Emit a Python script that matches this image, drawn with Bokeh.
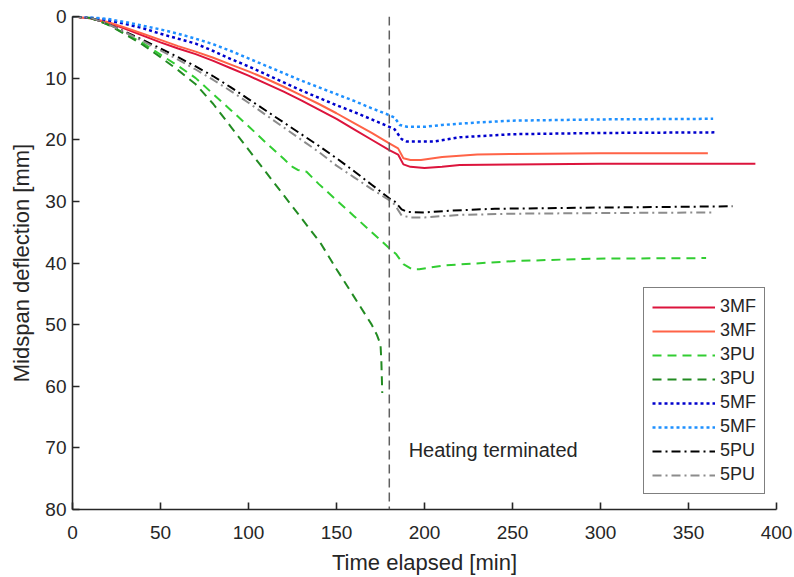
from bokeh.plotting import figure
from bokeh.models import Range1d, FixedTicker, Legend, LegendItem, Span, Label
from bokeh.embed import file_html
from bokeh.resources import INLINE

# ---- data ----
t_base = [0, 10, 20, 30, 40, 50, 60, 70, 80, 90, 100, 110, 120, 130, 140, 150, 160, 170, 180]

mf3a_t = t_base + [185, 188, 192, 200, 210, 220, 250, 300, 350, 388]
mf3a_d = [0, 0.3, 1.0, 2.0, 3.1, 4.2, 5.2, 6.1, 7.2, 8.4, 9.6, 10.9, 12.2, 13.6, 15.1, 16.6, 18.3, 20.0, 21.7,
          22.4, 24.0, 24.4, 24.6, 24.4, 24.1, 24.0, 23.9, 23.9, 23.9]

mf3b_t = t_base + [185, 188, 192, 198, 210, 230, 250, 300, 361]
mf3b_d = [0, 0.3, 0.9, 1.8, 2.8, 3.8, 4.8, 5.7, 6.7, 7.8, 8.9, 10.1, 11.4, 12.8, 14.2, 15.7, 17.3, 18.9, 20.6,
          21.4, 23.0, 23.3, 23.3, 22.8, 22.4, 22.3, 22.2, 22.2]

pu3a_t = [0, 10, 20, 30, 40, 50, 60, 70, 80, 90, 100, 110, 120, 125, 128, 133, 140, 150, 160, 170, 180,
          184, 188, 193, 197, 211, 250, 294, 360]
pu3a_d = [0, 0.2, 1.3, 2.8, 4.3, 6.2, 8.0, 10.0, 12.6, 15.2, 17.8, 20.5, 23.1, 24.4, 24.9, 25.2, 27.2, 29.8,
          32.4, 35.0, 37.6, 38.6, 40.2, 41.0, 41.0, 40.4, 39.7, 39.3, 39.2]

pu3b_t = [0, 10, 20, 30, 40, 50, 60, 70, 80, 90, 100, 110, 120, 130, 141, 150, 160, 170, 173, 175, 175.5, 176]
pu3b_d = [0, 0.2, 1.3, 2.9, 4.6, 6.6, 8.7, 11.0, 14.2, 17.9, 21.6, 25.3, 29.0, 32.7, 36.8, 41.0, 45.5, 50.0,
          51.7, 53.2, 56.0, 61.1]

mf5a_t = t_base + [183, 187, 190, 205, 220, 250, 300, 366]
mf5a_d = [0, 0.15, 0.6, 1.2, 1.9, 2.8, 3.6, 4.4, 5.6, 6.9, 8.1, 9.4, 10.7, 12.0, 13.2, 14.4, 15.5, 16.7, 17.9,
          18.3, 19.9, 20.3, 20.3, 19.6, 19.1, 18.9, 18.8]

mf5b_t = t_base + [183, 186, 190, 200, 210, 230, 250, 300, 364]
mf5b_d = [0, 0.1, 0.4, 0.9, 1.5, 2.1, 2.8, 3.6, 4.5, 5.6, 6.8, 8.0, 9.2, 10.4, 11.5, 12.6, 13.7, 14.9, 16.0,
          16.4, 17.6, 17.9, 17.9, 17.6, 17.2, 16.9, 16.7, 16.6]

pu5a_t = t_base + [183, 187, 190, 200, 215, 240, 300, 375]
pu5a_d = [0, 0.2, 1.2, 2.5, 3.8, 5.2, 6.6, 8.1, 9.7, 11.5, 13.4, 15.3, 17.2, 19.1, 21.0, 23.0, 25.1, 27.3, 29.5,
          30.0, 31.3, 31.7, 31.8, 31.5, 31.2, 31.0, 30.8]

pu5b_t = t_base + [183, 187, 192, 200, 220, 250, 300, 365]
pu5b_d = [0, 0.2, 1.2, 2.6, 4.0, 5.5, 7.0, 8.6, 10.3, 12.1, 14.0, 16.0, 18.0, 20.0, 22.0, 24.2, 26.1, 28.0, 29.8,
          30.5, 32.3, 32.6, 32.6, 32.2, 32.0, 31.9, 31.8]

labels = ["3MF", "3MF", "3PU", "3PU", "5MF", "5MF", "5PU", "5PU"]
x_ticks = [0, 50, 100, 150, 200, 250, 300, 350, 400]
y_ticks = [0, 10, 20, 30, 40, 50, 60, 70, 80]
heating_end = 180
note_x, note_y = 191, 70.3

FONT = "Liberation Sans"
AX = "#262626"

p = figure(width=794, height=577, output_backend="svg", toolbar_location=None,
           x_range=Range1d(0, 400), y_range=Range1d(80, 0),
           min_border_left=72, min_border_right=18, min_border_top=16, min_border_bottom=68)
p.outline_line_color = None
p.grid.visible = False
p.background_fill_color = "white"
p.border_fill_color = "white"

for ax in (p.xaxis[0], p.yaxis[0]):
    ax.axis_line_color = AX
    ax.axis_line_width = 1.6
    ax.major_tick_line_color = AX
    ax.major_tick_line_width = 1.6
    ax.major_tick_in = 7
    ax.major_tick_out = 0
    ax.minor_tick_line_color = None
    ax.major_label_text_font = FONT
    ax.major_label_text_font_size = "19px"
    ax.major_label_text_color = AX
    ax.axis_label_text_font = FONT
    ax.axis_label_text_font_size = "22px"
    ax.axis_label_text_font_style = "normal"
    ax.axis_label_text_color = AX

p.xaxis.ticker = FixedTicker(ticks=x_ticks)
p.yaxis.ticker = FixedTicker(ticks=y_ticks)
p.xaxis.axis_label = "Time elapsed [min]"
p.yaxis.axis_label = "Midspan deflection [mm]"
p.xaxis.major_label_standoff = 16
p.yaxis.major_label_standoff = 6
p.xaxis.axis_label_standoff = 8
p.yaxis.axis_label_standoff = 8

p.add_layout(Span(location=heating_end, dimension="height", line_color="#606060",
                  line_width=1.5, line_dash="9 5"))

series = [
    (mf3a_t, mf3a_d, "#DC143C", "solid", 2),
    (mf3b_t, mf3b_d, "#FF6347", "solid", 2),
    (pu3a_t, pu3a_d, "#32CD32", "9 6", 2),
    (pu3b_t, pu3b_d, "#228B22", "9 6", 2),
    (mf5a_t, mf5a_d, "#0000CD", "3 3", 2.5),
    (mf5b_t, mf5b_d, "#1E90FF", "3 3", 2.5),
    (pu5a_t, pu5a_d, "#000000", "9 4 2 4", 2),
    (pu5b_t, pu5b_d, "#8C8C8C", "9 4 2 4", 2),
]

items = []
for (t, d, c, dash, w), lab in zip(series, labels):
    r = p.line(t, d, line_color=c, line_width=w, line_dash=dash)
    items.append(LegendItem(label=lab, renderers=[r]))

legend = Legend(items=items, location=(571, 15))
legend.label_text_font = FONT
legend.label_text_font_size = "18px"
legend.label_text_color = AX
legend.glyph_width = 63
legend.glyph_height = 20
legend.label_height = 20
legend.label_standoff = 5
legend.spacing = 3
legend.padding = 8
legend.margin = 0
legend.border_line_color = "#000000"
legend.border_line_width = 1.5
legend.background_fill_color = "white"
legend.background_fill_alpha = 1.0
p.add_layout(legend, "center")

p.add_layout(Label(x=note_x, y=note_y, text="Heating terminated", text_font=FONT,
                   text_font_size="20px", text_color=AX, text_align="left",
                   text_baseline="middle"))

open("out.html", "w").write(file_html(p, INLINE))
